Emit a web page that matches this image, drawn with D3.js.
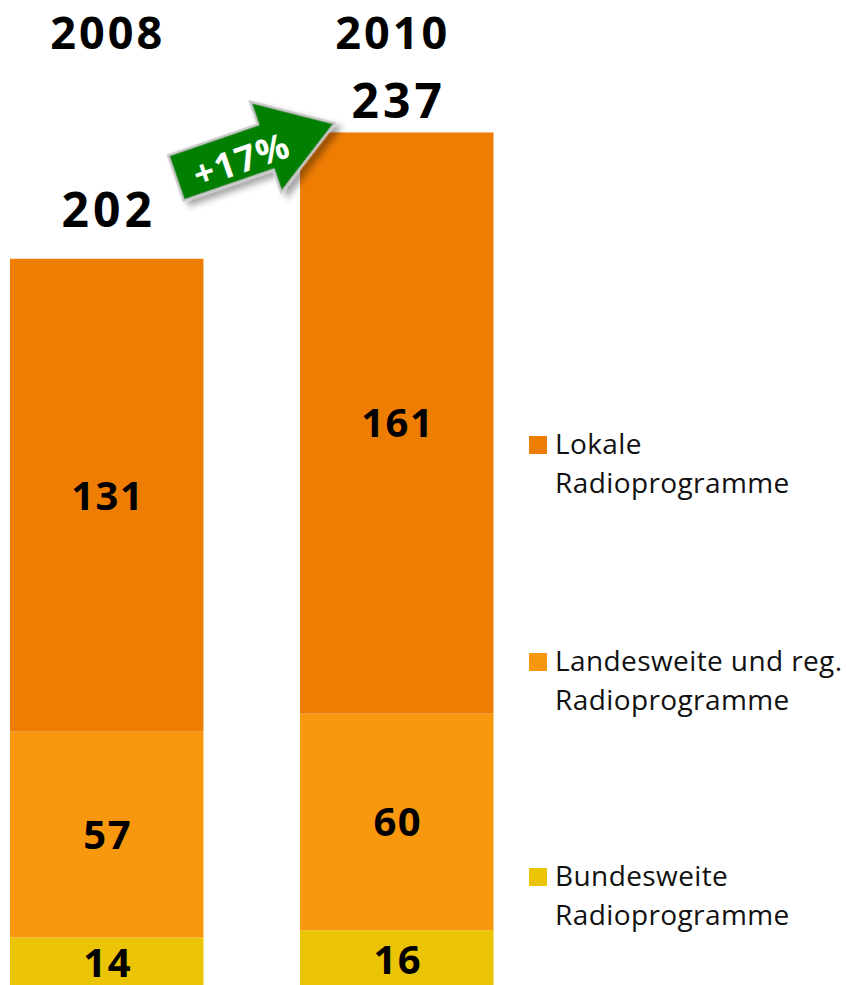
<!DOCTYPE html>
<html>
<head>
<meta charset="utf-8">
<script src="https://cdn.jsdelivr.net/npm/d3@7"></script>
<style>
  body { margin: 0; background: #fff; }
  svg { display: block; }
  text { font-family: "Open Sans", "Noto Sans", sans-serif; }
</style>
</head>
<body>
<svg></svg>
<script>
'use strict';
// Data
var years = ['2008', '2010'];
var keys = ['bundesweit', 'landesweit', 'lokal'];
var bundesweit = [14, 16];
var landesweit = [57, 60];
var lokal = [131, 161];
var legendLines = [
  ['Lokale', 'Radioprogramme'],
  ['Landesweite und reg.', 'Radioprogramme'],
  ['Bundesweite', 'Radioprogramme']
];
var colors = { lokal: '#ee7d04', landesweit: '#f8980e', bundesweit: '#eac405' };

var canvasWidth = 846;
var canvasHeight = 985;
var svg = d3.select('svg')
  .attr('width', canvasWidth)
  .attr('height', canvasHeight);

var rows = years.map(function(y, i) {
  return { year: y, bundesweit: bundesweit[i], landesweit: landesweit[i], lokal: lokal[i] };
});
var totals = rows.map(function(r) { return r.bundesweit + r.landesweit + r.lokal; });

var stack = d3.stack().keys(keys);
var series = stack(rows);

var xScale = d3.scaleBand().domain(years).range([10, 493.5]).paddingInner(0.333).paddingOuter(0);
var yScale = d3.scaleLinear().domain([0, 240]).range([988, 988 - 240 * 3.61]);

// shadow for the arrow
var defs = svg.append('defs');
var f = defs.append('filter').attr('id', 'shadow').attr('x', '-20%').attr('y', '-20%').attr('width', '150%').attr('height', '160%');
f.append('feDropShadow').attr('dx', 4).attr('dy', 6).attr('stdDeviation', 3)
  .attr('flood-color', '#000').attr('flood-opacity', 0.35);

// Bars
var layer = svg.selectAll('g.layer').data(series).enter().append('g')
  .attr('class', 'layer')
  .attr('fill', function(d) { return colors[d.key]; });

layer.selectAll('rect').data(function(d) { return d; }).enter().append('rect')
  .attr('x', function(d) { return xScale(d.data.year); })
  .attr('y', function(d) { return yScale(d[1]); })
  .attr('width', xScale.bandwidth())
  .attr('height', function(d) { return yScale(d[0]) - yScale(d[1]); });

// Segment values
layer.selectAll('text').data(function(d) { return d; }).enter().append('text')
  .attr('x', function(d) { return xScale(d.data.year) + xScale.bandwidth() / 2 + 1; })
  .attr('y', function(d) { return (yScale(d[0]) + yScale(d[1])) / 2; })
  .attr('dy', '0.36em')
  .attr('text-anchor', 'middle')
  .style('font-size', '40px')
  .style('font-weight', 700)
  .style('letter-spacing', '1.5px')
  .attr('fill', '#000')
  .text(function(d) { return d[1] - d[0]; });

// Totals above bars
var totalGap = [32, 14];
svg.selectAll('text.total').data(years).enter().append('text')
  .attr('class', 'total')
  .attr('x', function(d) { return xScale(d) + xScale.bandwidth() / 2 + 2; })
  .attr('y', function(d, i) { return yScale(totals[i]) - totalGap[i]; })
  .attr('text-anchor', 'middle')
  .style('font-size', '48px')
  .style('font-weight', 700)
  .style('letter-spacing', '4px')
  .text(function(d, i) { return totals[i]; });

// Year headings
var yearDx = [1, -4];
svg.selectAll('text.year').data(years).enter().append('text')
  .attr('class', 'year')
  .attr('x', function(d, i) { return xScale(d) + xScale.bandwidth() / 2 + yearDx[i]; })
  .attr('y', 49)
  .attr('text-anchor', 'middle')
  .style('font-size', '45px')
  .style('font-weight', 700)
  .style('letter-spacing', '3px')
  .text(function(d) { return d; });

// Growth arrow
var growth = Math.round((totals[1] / totals[0] - 1) * 100);
var arrow = svg.append('g')
  .attr('transform', 'translate(176,178) rotate(-19)');
arrow.append('path')
  .attr('d', 'M0,-24 L95,-24 L95,-48 L168,0 L95,48 L95,24 L0,24 Z')
  .attr('fill', '#007f00')
  .attr('stroke', '#c8c8c8')
  .attr('stroke-width', 2.5)
  .attr('stroke-linejoin', 'miter')
  .attr('filter', 'url(#shadow)');
arrow.append('text')
  .attr('x', 68)
  .attr('y', 4)
  .attr('dy', '0.36em')
  .attr('text-anchor', 'middle')
  .attr('fill', '#fff')
  .style('font-size', '36px')
  .style('font-weight', 700)
  .style('letter-spacing', '1.5px')
  .text('+' + growth + '%');

// Legend
var legendKeys = ['lokal', 'landesweit', 'bundesweit'];
var legendY = [454, 671, 886];
var legend = svg.selectAll('g.legend').data(legendKeys).enter().append('g')
  .attr('class', 'legend')
  .attr('transform', function(d, i) { return 'translate(529,' + legendY[i] + ')'; });
legend.append('rect')
  .attr('x', 0).attr('y', -18).attr('width', 18).attr('height', 18)
  .attr('fill', function(d) { return colors[d]; });
legend.each(function(d, i) {
  var g = d3.select(this);
  legendLines[i].forEach(function(line, j) {
    g.append('text')
      .attr('x', 26)
      .attr('y', j * 39)
      .style('font-size', '28px')
      .style('letter-spacing', '0.4px')
      .attr('fill', '#111')
      .text(line);
  });
});
</script>
</body>
</html>
